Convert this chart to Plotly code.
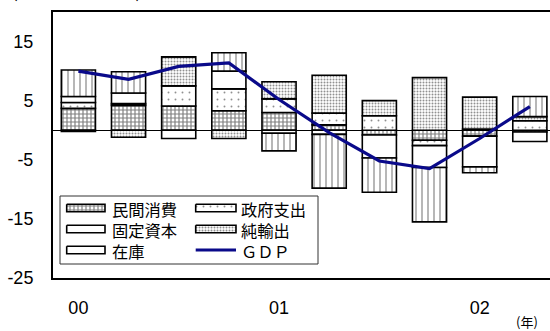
import plotly.graph_objects as go

quarters = ["00Q1", "00Q2", "00Q3", "00Q4", "01Q1", "01Q2", "01Q3", "01Q4", "02Q1", "02Q2"]
private_cons = [3.7, 4.2, 4.1, 3.3, 3.0, 0.9, -0.8, -1.7, -1.0, -0.3]
gov_spend = [1.0, 0.3, 3.4, 3.7, 2.3, 2.0, 2.45, -0.9, 0.2, 1.6]
fixed_cap = [1.0, 1.8, -1.4, 3.0, -0.5, -0.7, -3.9, -3.7, -5.2, -1.6]
net_exports = [-0.2, -1.2, 4.9, -1.4, 2.9, 6.4, 2.55, 8.9, 5.4, 0.7]
inventory = [4.5, 3.6, 0.0, 3.1, -3.0, -9.1, -5.8, -9.2, -1.0, 3.4]
gdp = [10.0, 8.6, 10.8, 11.4, 5.2, -0.4, -5.2, -6.5, -1.4, 4.0]
year_labels = ["00", "01", "02"]
year_label_quarter = [0, 4, 8]
ytick_vals = [-25, -15, -5, 5, 15]

series_names = ["民間消費", "政府支出", "固定資本", "純輸出", "在庫"]
gdp_name = "ＧＤＰ"

xi = list(range(len(quarters)))

PAT = {
    "民間消費": dict(shape="+", size=4, solidity=0.5, fgcolor="black"),
    "政府支出": dict(shape=".", size=7, solidity=0.06, fgcolor="#222"),
    "固定資本": dict(shape="", size=4, solidity=0.1, fgcolor="black"),
    "純輸出": dict(shape=".", size=3, solidity=0.35, fgcolor="#222"),
    "在庫": dict(shape="|", size=6, solidity=0.22, fgcolor="#222"),
}
NAVY = "#0a0a8a"

fig = go.Figure()

for name, vals in zip(series_names, [private_cons, gov_spend, fixed_cap, net_exports, inventory]):
    p = PAT[name]
    fig.add_trace(go.Bar(
        x=xi, y=vals, name=name, showlegend=False,
        marker=dict(color="white", line=dict(color="black", width=1.6),
                    pattern=dict(shape=p["shape"], size=p["size"], solidity=p["solidity"],
                                 fgcolor=p["fgcolor"], bgcolor="white", fillmode="overlay")),
    ))

fig.add_trace(go.Scatter(
    x=xi, y=gdp, name=gdp_name, mode="lines", showlegend=False,
    line=dict(color=NAVY, width=3.2),
))

W, H = 550, 331
L, R, T, B = 53, 0, 12, 53
pw = W - L - R
ph = H - T - B

def px2x(p):
    return (p - L) / pw

def px2y(p):
    return 1 - (p - T) / ph

# ---- hand-drawn legend (pixel coordinates on an overlay axis) ----
LG_L, LG_R, LG_T, LG_B = 60, 318, 196, 264
rows = [208, 229, 250]
cols = [(66.7, 105, 111), (195.7, 236, 240)]
legend_layout = [  # (row, col, label, swatch pattern key or 'line')
    (0, 0, "民間消費", "民間消費"),
    (0, 1, "政府支出", "政府支出"),
    (1, 0, "固定資本", "固定資本"),
    (1, 1, "純輸出", "純輸出"),
    (2, 0, "在庫", "固定資本"),
    (2, 1, gdp_name, "line"),
]
sw_h = 7.5
col_texts = {0: [], 1: []}
for r, c, label, key in legend_layout:
    x0, x1, tx = cols[c]
    yc = rows[r]
    col_texts[c].append(label)
    if key == "line":
        fig.add_trace(go.Scatter(x=[x0, x1], y=[yc, yc], mode="lines", xaxis="x2", yaxis="y2",
                                 showlegend=False, hoverinfo="skip",
                                 line=dict(color=NAVY, width=3.2)))
    else:
        p = PAT[key]
        fig.add_trace(go.Scatter(
            x=[x0, x1, x1, x0, x0], y=[yc - sw_h / 2, yc - sw_h / 2, yc + sw_h / 2, yc + sw_h / 2, yc - sw_h / 2],
            mode="lines", fill="toself", fillcolor="white", xaxis="x2", yaxis="y2",
            showlegend=False, hoverinfo="skip",
            line=dict(color="black", width=1.6),
            fillpattern=dict(shape=p["shape"], size=p["size"], solidity=p["solidity"],
                             fgcolor=p["fgcolor"], bgcolor="white", fillmode="overlay"),
        ))

annotations = []
for c in (0, 1):
    annotations.append(dict(text="<br>".join(col_texts[c]), xref="x2", yref="y2",
                            x=cols[c][2], y=rows[1] + 0.5, xanchor="left", yanchor="middle",
                            align="left", showarrow=False, borderpad=0,
                            font=dict(family="Noto Sans CJK JP", size=16.3, color="black")))

annotations += [
    dict(text="(年)", xref="paper", yref="paper", x=px2x(527), y=px2y(321),
         xanchor="center", yanchor="middle", showarrow=False,
         font=dict(family="Noto Sans CJK JP", size=13, color="black")),
    dict(text="(前年同期比、%)", xref="paper", yref="paper", x=px2x(10), y=1,
         xanchor="left", yanchor="bottom", yshift=7, showarrow=False,
         font=dict(family="Noto Sans CJK JP", size=17, color="black")),
]

fig.update_layout(
    width=W, height=H,
    margin=dict(l=L, r=R, t=T, b=B),
    paper_bgcolor="white", plot_bgcolor="white",
    barmode="relative", bargap=0.32,
    showlegend=False,
    font=dict(family="Liberation Sans", size=18, color="black"),
    xaxis=dict(range=[-0.506, 9.402], tickvals=year_label_quarter, ticktext=year_labels,
               showgrid=False, zeroline=False, showline=True, mirror=True,
               linecolor="black", linewidth=2, ticks="", ticklabelstandoff=12,
               tickfont=dict(size=18)),
    yaxis=dict(range=[-25, 20], tickvals=ytick_vals,
               ticktext=[str(v) for v in ytick_vals],
               showgrid=False, zeroline=True, zerolinecolor="black", zerolinewidth=1,
               showline=True, linecolor="black", linewidth=2, ticks="",
               ticklabelstandoff=14, tickfont=dict(size=18)),
    xaxis2=dict(domain=[px2x(LG_L), px2x(LG_R)], range=[LG_L, LG_R], anchor="y2",
                visible=False, fixedrange=True),
    yaxis2=dict(domain=[px2y(LG_B), px2y(LG_T)], range=[LG_B, LG_T], anchor="x2",
                visible=False, fixedrange=True),
    shapes=[dict(type="rect", xref="paper", yref="paper",
                 x0=px2x(LG_L), x1=px2x(LG_R), y0=px2y(LG_B), y1=px2y(LG_T),
                 line=dict(color="#333", width=1), fillcolor="rgba(0,0,0,0)", layer="above")],
    annotations=annotations,
)

fig.write_html("out.html")
